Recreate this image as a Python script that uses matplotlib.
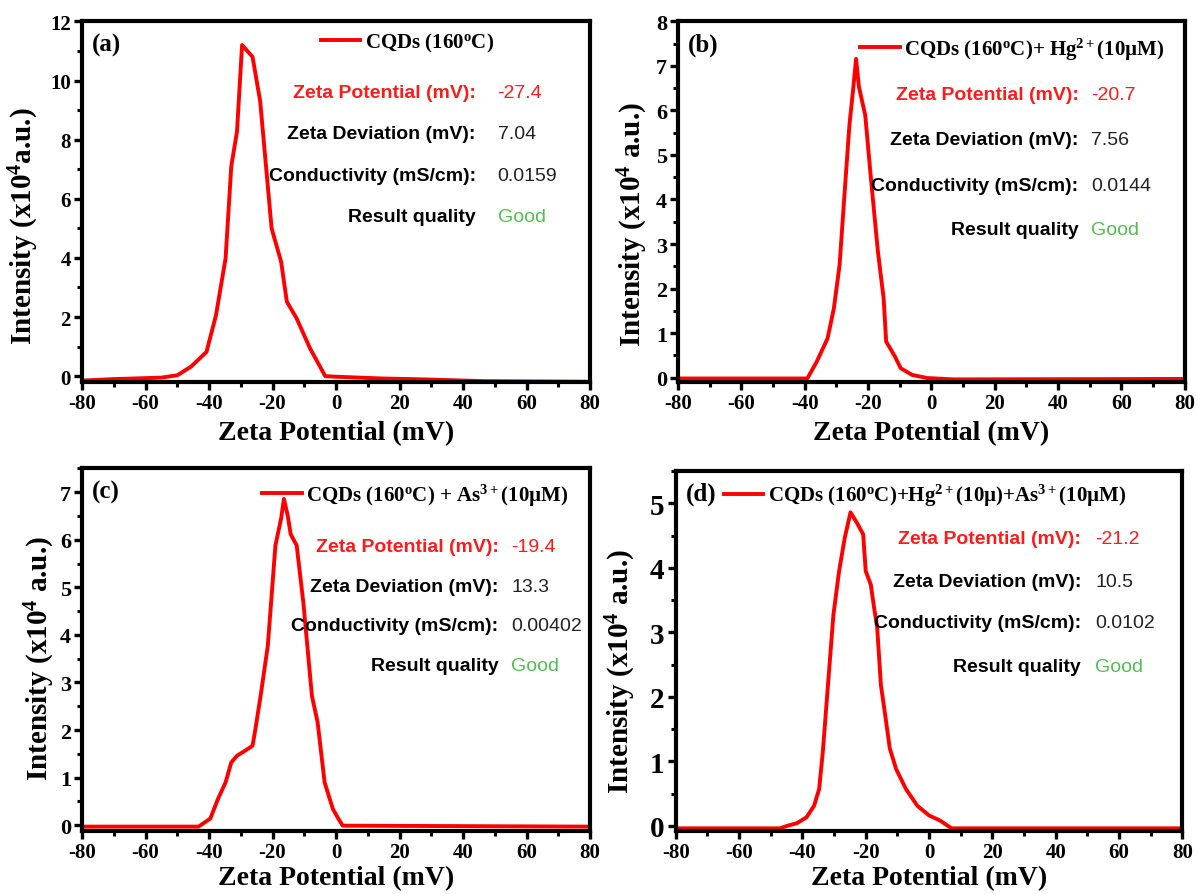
import numpy as np
import matplotlib.pyplot as plt
from matplotlib.ticker import MultipleLocator

plt.rcParams['font.family'] = ['Liberation Serif', 'DejaVu Serif']
plt.rcParams['font.weight'] = 'bold'
plt.rcParams['axes.unicode_minus'] = False
plt.rcParams['mathtext.fontset'] = 'custom'
plt.rcParams['mathtext.rm'] = 'Liberation Serif:bold'
plt.rcParams['mathtext.bf'] = 'Liberation Serif:bold'
plt.rcParams['mathtext.it'] = 'Liberation Serif:bold'

# ---- data (zeta potential in mV, intensity x10^4 a.u.) ----
x_a = [-80, -70, -55, -50, -45.7, -40.8, -37.8, -34.8, -33, -31.2, -29.6, -26.3, -23.9,
       -20.3, -17.3, -15.5, -12.4, -8.2, -3.4, 0.2, 14.7, 28, 46.8, 80]
y_a = [-0.15, -0.1, -0.05, 0.03, 0.32, 0.82, 2.07, 3.98, 7.1, 8.27, 11.2, 10.8, 9.3,
       5.0, 3.87, 2.52, 1.95, 0.94, 0.0, -0.02, -0.08, -0.11, -0.17, -0.19]

x_b = [-80, -39.2, -36.2, -32.8, -30.8, -29, -27.7, -25.9, -24.7, -23.8, -22.9, -20.9,
       -19.3, -17.9, -16.9, -15.1, -14.3, -11.5, -9.7, -6.1, -1.3, 7.1, 80]
y_b = [-0.02, -0.02, 0.36, 0.88, 1.56, 2.53, 3.87, 5.67, 6.49, 7.16, 6.53, 5.89,
       4.62, 3.57, 2.83, 1.78, 0.81, 0.47, 0.21, 0.06, -0.01, -0.04, -0.03]

x_c = [-80, -43.3, -39.6, -37.2, -34.8, -33, -31.2, -28.8, -26.3, -25.4, -23.6, -21.5,
       -20.3, -19.1, -17.3, -16.4, -15.2, -14.3, -12.4, -10.3, -7.6, -5.8, -3.6, -1,
       0.8, 2.1, 80]
y_c = [-0.03, -0.03, 0.14, 0.55, 0.9, 1.32, 1.46, 1.56, 1.67, 2.02, 2.79, 3.77,
       4.82, 5.88, 6.45, 6.86, 6.5, 6.12, 5.88, 4.68, 2.72, 2.16, 0.9, 0.34,
       0.13, -0.01, -0.03]

x_d = [-80, -47.1, -44.7, -41.7, -38.7, -36.3, -34.7, -33.5, -32, -30.2, -28.4, -26.6,
       -24.8, -22.8, -20.8, -20, -18.4, -17.2, -16.4, -15.2, -14, -12.4, -10.4, -7.3,
       -3.7, 0, 3.5, 7.1, 80]
y_d = [-0.04, -0.04, 0.0, 0.04, 0.13, 0.31, 0.57, 1.17, 2.13, 3.27, 3.95, 4.47,
       4.86, 4.7, 4.52, 3.95, 3.74, 3.33, 3.09, 2.18, 1.77, 1.2, 0.88, 0.57,
       0.31, 0.16, 0.08, -0.04, -0.04]

labels = ['CQDs (160$^{\\mathrm{o}}$C)',
          'CQDs (160$^{\\mathrm{o}}$C)+ Hg$^{\\mathrm{2+}}$(10µM)',
          'CQDs (160$^{\\mathrm{o}}$C) + As$^{\\mathrm{3+}}$(10µM)',
          'CQDs (160$^{\\mathrm{o}}$C)+Hg$^{\\mathrm{2+}}$(10µ)+As$^{\\mathrm{3+}}$(10µM)']
ylabels = ['Intensity (x10$^{\\mathrm{4}}$a.u.)',
           'Intensity (x10$^{\\mathrm{4}}$ a.u.)',
           'Intensity (x10$^{\\mathrm{4}}$ a.u.)',
           'Intensity (x10$^{\\mathrm{4}}$ a.u.)']
tags = ['(a)', '(b)', '(c)', '(d)']
zeta_pot = ['-27.4', '-20.7', '-19.4', '-21.2']
zeta_dev = ['7.04', '7.56', '13.3', '10.5']
conduct = ['0.0159', '0.0144', '0.00402', '0.0102']
quality = ['Good', 'Good', 'Good', 'Good']

xs = [x_a, x_b, x_c, x_d]
ys = [y_a, y_b, y_c, y_d]

# layout of each panel: axes rect, ylim, y major step, ytick size,
# legend anchor, info text x (label right / value left), info row y, ylabel coords
panels = [
    dict(rect=[0.0685, 0.572, 0.424, 0.403], ylim=(-0.2, 12), step=2, ysize=15,
         leg=(0.47, 0.942), lx=0.775, vx=0.818, rows=[0.804, 0.688, 0.572, 0.46],
         ylab=(-0.08, 0.435), xpad=5),
    dict(rect=[0.566, 0.572, 0.423, 0.403], ylim=(-0.1, 8), step=1, ysize=16,
         leg=(0.36, 0.924), lx=0.79, vx=0.815, rows=[0.797, 0.672, 0.545, 0.424],
         ylab=(-0.055, 0.44), xpad=5),
    dict(rect=[0.0685, 0.0705, 0.424, 0.405], ylim=(-0.12, 7.5), step=1, ysize=16,
         leg=(0.355, 0.928), lx=0.82, vx=0.845, rows=[0.785, 0.675, 0.567, 0.457],
         ylab=(-0.05, 0.477), xpad=2),
    dict(rect=[0.564, 0.0705, 0.423, 0.402], ylim=(-0.08, 5.5), step=1, ysize=21,
         leg=(0.095, 0.933), lx=0.80, vx=0.828, rows=[0.812, 0.694, 0.578, 0.458],
         ylab=(-0.074, 0.447), xpad=2),
]

info_font = ['Liberation Sans', 'DejaVu Sans']
red = '#ff1a1a'
green = '#4fbf4f'

fig = plt.figure(figsize=(11.98, 8.95), dpi=100)

for i, p in enumerate(panels):
    ax = fig.add_axes(p['rect'])
    ax.plot(xs[i], ys[i], color='#ff0000', linewidth=2.8, label=labels[i])
    ax.set_xlim(-80, 80)
    ax.set_ylim(*p['ylim'])
    ax.xaxis.set_major_locator(MultipleLocator(20))
    ax.xaxis.set_minor_locator(MultipleLocator(10))
    ax.yaxis.set_major_locator(MultipleLocator(p['step']))
    ax.yaxis.set_minor_locator(MultipleLocator(p['step'] / 2))
    for s in ax.spines.values():
        s.set_linewidth(3.0)
    ax.tick_params(which='major', direction='out', length=6, width=2.4, pad=2)
    ax.tick_params(which='minor', direction='out', length=3.5, width=2.2)
    ax.tick_params(axis='x', labelsize=15)
    ax.tick_params(axis='y', labelsize=p['ysize'])
    for t in ax.get_xticklabels() + ax.get_yticklabels():
        t.set_fontweight('bold')
    ax.set_xlabel('Zeta Potential (mV)', fontsize=20, fontweight='bold',
                  labelpad=p['xpad'])
    ax.set_ylabel(ylabels[i], fontsize=21, fontweight='bold')
    ax.yaxis.set_label_coords(*p['ylab'])

    ax.text(0.02, 0.937, tags[i], transform=ax.transAxes, fontsize=18,
            fontweight='bold', va='center', ha='left')
    ax.legend(loc='center left', bbox_to_anchor=p['leg'], frameon=False,
              fontsize=15, handlelength=1.9, handletextpad=0.2,
              borderpad=0, borderaxespad=0)

    names = ['Zeta Potential (mV):', 'Zeta Deviation (mV):',
             'Conductivity (mS/cm):', 'Result quality']
    vals = [zeta_pot[i], zeta_dev[i], conduct[i], quality[i]]
    ncol = [red, 'black', 'black', 'black']
    vcol = [red, '#222222', '#222222', green]
    for r in range(4):
        ax.text(p['lx'], p['rows'][r], names[r], transform=ax.transAxes,
                ha='right', va='center', fontsize=14, fontweight='bold',
                color=ncol[r], family=info_font)
        ax.text(p['vx'], p['rows'][r], vals[r], transform=ax.transAxes,
                ha='left', va='center', fontsize=14, fontweight='normal',
                color=vcol[r], family=info_font)

fig.savefig('out.png', dpi=100)
